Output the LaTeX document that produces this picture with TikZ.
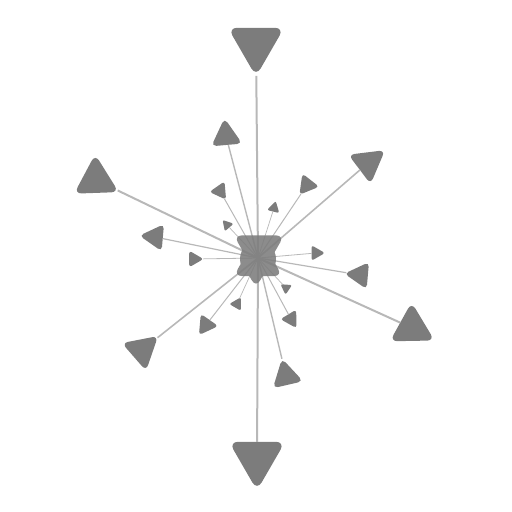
\documentclass[tikz,border=0pt]{standalone}
\usetikzlibrary{shapes.geometric}
\definecolor{nodegray}{RGB}{124,124,124}
\definecolor{edgegray}{RGB}{184,184,184}
\tikzset{
  tri/.style n args={2}{regular polygon, regular polygon sides=3, fill=nodegray,
    draw=none, inner sep=0pt, outer sep=0pt, minimum size=#1*2.24pt,
    rounded corners=#1*0.32pt, shape border rotate=#2},
  hub/.style={rounded corners=8pt},
  hubcore/.style={circle, fill=nodegray, draw=none, inner sep=0pt, minimum size=36pt},
  edge/.style={draw=edgegray, line cap=butt}
}
\begin{document}
\begin{tikzpicture}[x=1pt,y=-1pt]
\useasboundingbox (0,0) rectangle (512,512);
\coordinate (c) at (258,258);
% outer nodes
\node[tri={29}{60}] (n1) at (256,44) {};
\node[tri={16}{5}] (n2) at (226,136) {};
\node[tri={19}{67}] (n3) at (368,163) {};
\node[tri={23}{2}] (n4) at (96,180) {};
\node[tri={9.5}{-25}] (n5) at (220,191) {};
\node[tri={11}{22}] (n6) at (307,185) {};
\node[tri={6.5}{-14}] (n7) at (274,208) {};
\node[tri={6}{41}] (n8) at (227,225) {};
\node[tri={14}{85}] (n9) at (155,237) {};
\node[tri={8.5}{30}] (n10) at (194,259) {};
\node[tri={8}{30}] (n11) at (316,253) {};
\node[tri={14}{85}] (n12) at (360,275) {};
\node[tri={6}{56}] (n13) at (286,288) {};
\node[tri={7}{90}] (n14) at (237,304) {};
\node[tri={11}{25}] (n15) at (206,325) {};
\node[tri={9.5}{91}] (n16) at (291,319) {};
\node[tri={23}{1}] (n17) at (412,328) {};
\node[tri={19}{71}] (n18) at (142,350) {};
\node[tri={16}{13}] (n19) at (286,376) {};
\node[tri={29}{60}] (n20) at (257,458) {};
% edges
\draw[edge, line width=2pt] (c) -- (n1);
\draw[edge, line width=1.4pt] (c) -- (n2);
\draw[edge, line width=1.6pt] (c) -- (n3);
\draw[edge, line width=2pt] (c) -- (n4);
\draw[edge, line width=1pt] (c) -- (n5);
\draw[edge, line width=1pt] (c) -- (n6);
\draw[edge, line width=0.7pt] (c) -- (n7);
\draw[edge, line width=0.7pt] (c) -- (n8);
\draw[edge, line width=1.2pt] (c) -- (n9);
\draw[edge, line width=0.8pt] (c) -- (n10);
\draw[edge, line width=0.8pt] (c) -- (n11);
\draw[edge, line width=1.2pt] (c) -- (n12);
\draw[edge, line width=0.7pt] (c) -- (n13);
\draw[edge, line width=0.7pt] (c) -- (n14);
\draw[edge, line width=1pt] (c) -- (n15);
\draw[edge, line width=1pt] (c) -- (n16);
\draw[edge, line width=2pt] (c) -- (n17);
\draw[edge, line width=1.6pt] (c) -- (n18);
\draw[edge, line width=1.4pt] (c) -- (n19);
\draw[edge, line width=2pt] (c) -- (n20);
% central cluster
\begin{scope}[transparency group, opacity=0.88]
\node[hubcore] (b0) at (258,259) {};
\node[tri={26}{60}, hub] (b1) at (259,250) {};
\node[tri={25}{0}, hub] (b2) at (258,262) {};
\node[tri={13}{60}, hub] (b3) at (256,273) {};
\end{scope}
\end{tikzpicture}
\end{document}
